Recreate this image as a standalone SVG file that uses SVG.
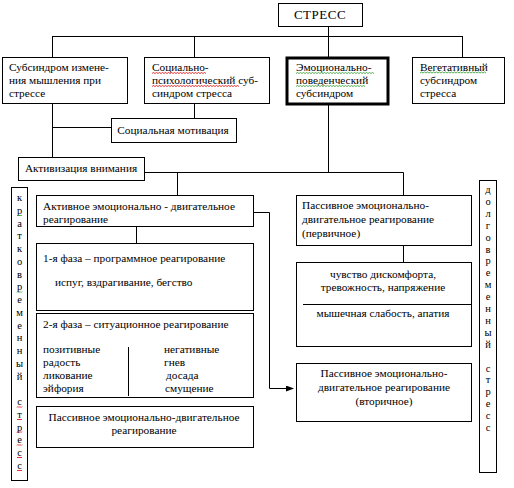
<svg xmlns="http://www.w3.org/2000/svg" width="514" height="488" viewBox="0 0 514 488">
<style>
.b{fill:#fff;stroke:#000;stroke-width:1}
.l{fill:none;stroke:#000;stroke-width:1}
.r{fill:none;stroke:#e00000;stroke-width:0.8}
.g{fill:none;stroke:#2a9a2a;stroke-width:0.8}
text{font-family:"Liberation Serif","Times New Roman",serif;font-size:11.3px;fill:#000}
.c{text-anchor:middle}
.s{letter-spacing:0.5px}
.v{text-anchor:middle;font-size:10.5px}
</style>
<defs>
<marker id="ar" markerWidth="8" markerHeight="6" refX="7" refY="3" orient="auto" markerUnits="userSpaceOnUse">
<path d="M0,0 L8,3 L0,6 Z" fill="#000"/>
</marker>
</defs>
<g id="connectors">
<path class="l" d="M52.5,36.5 H462.5"/>
<path class="l" d="M328.5,26 V57"/>
<path class="l" d="M52.5,36 V57"/>
<path class="l" d="M194.5,36 V57"/>
<path class="l" d="M462.5,36 V57"/>
<path class="l" d="M194.5,103 V118"/>
<path class="l" d="M52.5,103 V157"/>
<path class="l" d="M52,127.5 H111"/>
<path class="l" d="M144,172.5 H403.5 V195"/>
<path class="l" d="M328.5,104 V172"/>
<path class="l" d="M177.5,172 V195"/>
<path class="l" d="M136.5,226 V243"/>
<path class="l" d="M253,212.5 H269.5 V388.5 H293" marker-end="url(#ar)"/>
<path class="l" d="M403.5,245 V262"/>
</g>
<g id="stress">
<rect class="b" x="278.5" y="3.5" width="84" height="23"/>
<text class="c s" x="320" y="19" style="font-size:13px">СТРЕСС</text>
</g>
<g id="sub1">
<rect class="b" x="2.5" y="57.5" width="125" height="46"/>
<text x="9" y="71">Субсиндром измене-</text>
<text x="9" y="84">ния мышления при</text>
<text x="9" y="97">стрессе</text>
</g>
<g id="sub2">
<rect class="b" x="144.5" y="57.5" width="125" height="46"/>
<text x="152" y="71">Социально-</text>
<text x="152" y="84">психологический суб-</text>
<text x="152" y="97">синдром стресса</text>
<path class="r" d="M152,73.5 l1.5,-1 l1.5,1 l1.5,-1 l1.5,1 l1.5,-1 l1.5,1 l1.5,-1 l1.5,1 l1.5,-1 l1.5,1 l1.5,-1 l1.5,1 l1.5,-1 l1.5,1 l1.5,-1 l1.5,1 l1.5,-1 l1.5,1 l1.5,-1 l1.5,1 l1.5,-1 l1.5,1 l1.5,-1 l1.5,1 l1.5,-1 l1.5,1 l1.5,-1 l1.5,1 l1.5,-1 l1.5,1 l1.5,-1 l1.5,1 l1.5,-1 l1.5,1 l1.5,-1 l1.5,1"/>
<path class="r" d="M152,86.5 l1.5,-1 l1.5,1 l1.5,-1 l1.5,1 l1.5,-1 l1.5,1 l1.5,-1 l1.5,1 l1.5,-1 l1.5,1 l1.5,-1 l1.5,1 l1.5,-1 l1.5,1 l1.5,-1 l1.5,1 l1.5,-1 l1.5,1 l1.5,-1 l1.5,1 l1.5,-1 l1.5,1 l1.5,-1 l1.5,1 l1.5,-1 l1.5,1 l1.5,-1 l1.5,1 l1.5,-1 l1.5,1 l1.5,-1 l1.5,1 l1.5,-1 l1.5,1 l1.5,-1 l1.5,1 l1.5,-1 l1.5,1 l1.5,-1 l1.5,1 l1.5,-1 l1.5,1 l1.5,-1 l1.5,1 l1.5,-1 l1.5,1 l1.5,-1 l1.5,1 l1.5,-1 l1.5,1 l1.5,-1 l1.5,1 l1.5,-1 l1.5,1 l1.5,-1 l1.5,1 l1.5,-1 l1.5,1"/>
</g>
<g id="sub3">
<rect x="287" y="58" width="101" height="46" fill="#fff" stroke="#000" stroke-width="3"/>
<text x="296" y="71">Эмоционально-</text>
<text x="296" y="84">поведенческий</text>
<text x="296" y="97">субсиндром</text>
<path class="g" d="M296,73.5 l1.5,-1 l1.5,1 l1.5,-1 l1.5,1 l1.5,-1 l1.5,1 l1.5,-1 l1.5,1 l1.5,-1 l1.5,1 l1.5,-1 l1.5,1 l1.5,-1 l1.5,1 l1.5,-1 l1.5,1 l1.5,-1 l1.5,1 l1.5,-1 l1.5,1 l1.5,-1 l1.5,1 l1.5,-1 l1.5,1 l1.5,-1 l1.5,1 l1.5,-1 l1.5,1 l1.5,-1 l1.5,1 l1.5,-1 l1.5,1 l1.5,-1 l1.5,1 l1.5,-1 l1.5,1 l1.5,-1 l1.5,1 l1.5,-1 l1.5,1 l1.5,-1 l1.5,1 l1.5,-1 l1.5,1 l1.5,-1 l1.5,1 l1.5,-1 l1.5,1 l1.5,-1 l1.5,1 l1.5,-1 l1.5,1"/>
<path class="g" d="M296,86.5 l1.5,-1 l1.5,1 l1.5,-1 l1.5,1 l1.5,-1 l1.5,1 l1.5,-1 l1.5,1 l1.5,-1 l1.5,1 l1.5,-1 l1.5,1 l1.5,-1 l1.5,1 l1.5,-1 l1.5,1 l1.5,-1 l1.5,1 l1.5,-1 l1.5,1 l1.5,-1 l1.5,1 l1.5,-1 l1.5,1 l1.5,-1 l1.5,1 l1.5,-1 l1.5,1 l1.5,-1 l1.5,1 l1.5,-1 l1.5,1 l1.5,-1 l1.5,1 l1.5,-1 l1.5,1 l1.5,-1 l1.5,1 l1.5,-1 l1.5,1 l1.5,-1 l1.5,1 l1.5,-1 l1.5,1 l1.5,-1 l1.5,1"/>
</g>
<g id="sub4">
<rect class="b" x="412.5" y="57.5" width="92" height="46"/>
<text x="420" y="70.5">Вегетативный</text>
<text x="420" y="83.5">субсиндром</text>
<text x="420" y="96.5">стресса</text>
<path class="g" d="M420,73 l1.5,-1 l1.5,1 l1.5,-1 l1.5,1 l1.5,-1 l1.5,1 l1.5,-1 l1.5,1 l1.5,-1 l1.5,1 l1.5,-1 l1.5,1 l1.5,-1 l1.5,1 l1.5,-1 l1.5,1 l1.5,-1 l1.5,1 l1.5,-1 l1.5,1 l1.5,-1 l1.5,1 l1.5,-1 l1.5,1 l1.5,-1 l1.5,1 l1.5,-1 l1.5,1 l1.5,-1 l1.5,1 l1.5,-1 l1.5,1 l1.5,-1 l1.5,1 l1.5,-1 l1.5,1 l1.5,-1 l1.5,1 l1.5,-1 l1.5,1 l1.5,-1 l1.5,1 l1.5,-1 l1.5,1"/>
</g>
<g id="socmot">
<rect class="b" x="111.5" y="118.5" width="125" height="24"/>
<text class="c" x="173" y="134">Социальная мотивация</text>
</g>
<g id="activ">
<rect class="b" x="18.5" y="157.5" width="126" height="23"/>
<text class="c" x="81" y="172">Активизация внимания</text>
</g>
<g id="short">
<rect class="b" x="11.5" y="187.5" width="16" height="293"/>
<text class="v" x="19.5" y="201">к</text>
<text class="v" x="19.5" y="213.75">р</text>
<text class="v" x="19.5" y="226.5">а</text>
<text class="v" x="19.5" y="239.25">т</text>
<text class="v" x="19.5" y="252">к</text>
<text class="v" x="19.5" y="264.75">о</text>
<text class="v" x="19.5" y="277.5">в</text>
<text class="v" x="19.5" y="290.25">р</text>
<text class="v" x="19.5" y="303">е</text>
<text class="v" x="19.5" y="315.75">м</text>
<text class="v" x="19.5" y="328.5">е</text>
<text class="v" x="19.5" y="341.25">н</text>
<text class="v" x="19.5" y="354">н</text>
<text class="v" x="19.5" y="366.75">ы</text>
<text class="v" x="19.5" y="379.5">й</text>
<text class="v" x="19.5" y="405">с</text>
<text class="v" x="19.5" y="417.75">т</text>
<text class="v" x="19.5" y="430.5">р</text>
<text class="v" x="19.5" y="443.25">е</text>
<text class="v" x="19.5" y="456">с</text>
<text class="v" x="19.5" y="468.75">с</text>
<path class="g" d="M17,216 l1,-1 l1,1 l1,-1 l1,1 l1,-1"/>
<path class="g" d="M17,292.5 l1,-1 l1,1 l1,-1 l1,1 l1,-1"/>
<path class="r" d="M17,407.5 l1,-1 l1,1 l1,-1 l1,1 l1,-1"/>
<path class="r" d="M17,420 l1,-1 l1,1 l1,-1 l1,1 l1,-1"/>
<path class="r" d="M17,432.5 l1,-1 l1,1 l1,-1 l1,1 l1,-1"/>
<path class="r" d="M17,445.5 l1,-1 l1,1 l1,-1 l1,1 l1,-1"/>
<path class="r" d="M17,458 l1,-1 l1,1 l1,-1 l1,1 l1,-1"/>
<path class="r" d="M17,471 l1,-1 l1,1 l1,-1 l1,1 l1,-1"/>
</g>
<g id="active">
<rect class="b" x="36.5" y="195.5" width="217" height="31"/>
<text x="43" y="210">Активное эмоционально - двигательное</text>
<text x="43" y="223">реагирование</text>
</g>
<g id="phase1">
<rect class="b" x="36.5" y="243.5" width="217" height="67"/>
<text x="43" y="262">1-я фаза – программное реагирование</text>
<text x="55" y="286">испуг, вздрагивание, бегство</text>
</g>
<g id="phase2">
<rect class="b" x="36.5" y="313.5" width="217" height="84"/>
<text x="43" y="328">2-я фаза – ситуационное реагирование</text>
<path class="l" d="M128.5,347 V396"/>
<text x="43" y="353">позитивные</text>
<text x="43" y="366">радость</text>
<text x="43" y="379">ликование</text>
<text x="43" y="392">эйфория</text>
<text x="164" y="353">негативные</text>
<text x="164" y="366">гнев</text>
<text x="166" y="379">досада</text>
<text x="165" y="392">смущение</text>
</g>
<g id="passiveL">
<rect class="b" x="36.5" y="406.5" width="217" height="41"/>
<text class="c" x="144" y="421">Пассивное эмоционально-двигательное</text>
<text class="c" x="144" y="434">реагирование</text>
</g>
<g id="passive1">
<rect class="b" x="296.5" y="195.5" width="175" height="50"/>
<text x="302" y="209">Пассивное эмоционально-</text>
<text x="302" y="223">двигательное реагирование</text>
<text x="302" y="237">(первичное)</text>
</g>
<g id="discomfort">
<rect class="b" x="296.5" y="262.5" width="175" height="84"/>
<text class="c" x="383" y="278">чувство дискомфорта,</text>
<text class="c" x="383" y="291">тревожность, напряжение</text>
<path class="l" d="M303,304.5 H471"/>
<text class="c" x="383" y="317">мышечная слабость, апатия</text>
</g>
<g id="passive2">
<rect class="b" x="296.5" y="363.5" width="175" height="58"/>
<text class="c" x="384" y="377">Пассивное эмоционально-</text>
<text class="c" x="384" y="391">двигательное реагирование</text>
<text class="c" x="384" y="405">(вторичное)</text>
</g>
<g id="long">
<rect class="b" x="479.5" y="180.5" width="17" height="292"/>
<text class="v" x="488" y="193">д</text>
<text class="v" x="488" y="204.9">о</text>
<text class="v" x="488" y="216.8">л</text>
<text class="v" x="488" y="228.7">г</text>
<text class="v" x="488" y="240.6">о</text>
<text class="v" x="488" y="252.5">в</text>
<text class="v" x="488" y="264.4">р</text>
<text class="v" x="488" y="276.3">е</text>
<text class="v" x="488" y="288.2">м</text>
<text class="v" x="488" y="300.1">е</text>
<text class="v" x="488" y="312">н</text>
<text class="v" x="488" y="323.9">н</text>
<text class="v" x="488" y="335.8">ы</text>
<text class="v" x="488" y="347.7">й</text>
<text class="v" x="488" y="371.5">с</text>
<text class="v" x="488" y="383.4">т</text>
<text class="v" x="488" y="395.3">р</text>
<text class="v" x="488" y="407.2">е</text>
<text class="v" x="488" y="419.1">с</text>
<text class="v" x="488" y="431">с</text>
</g>
</svg>
